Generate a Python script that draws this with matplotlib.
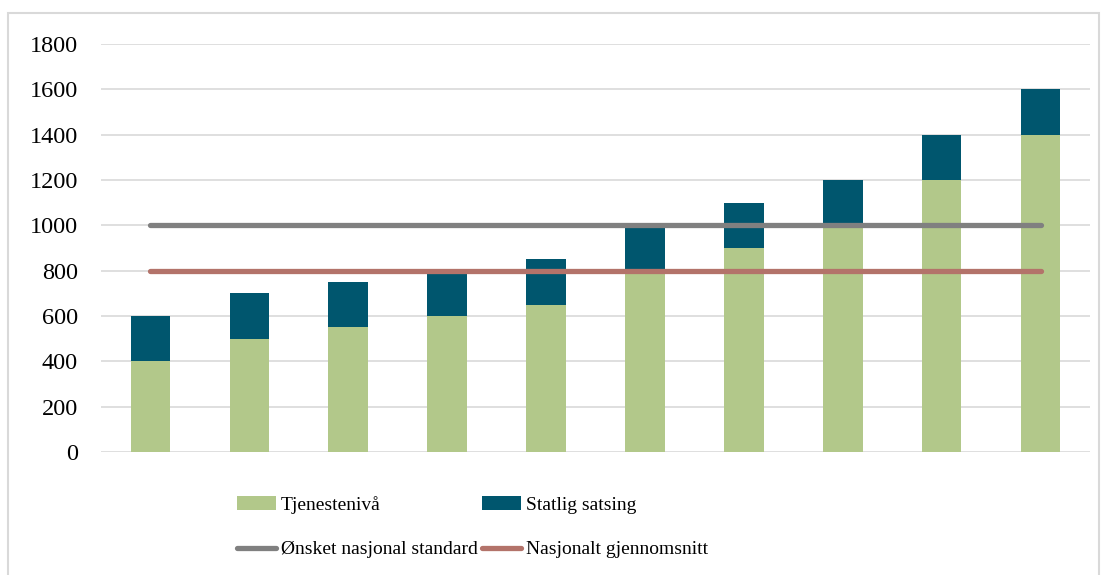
import matplotlib
matplotlib.use('Agg')

import matplotlib.pyplot as plt
from matplotlib.patches import Rectangle

# tjenestenivå per kommune og statlig tilskudd oppå
tjenesteniva = [400, 500, 550, 600, 650, 800, 900, 1000, 1200, 1400]
statlig = [200, 200, 200, 200, 200, 200, 200, 200, 200, 200]
onsket_standard = 1000
nasjonalt_snitt = 800
yticks = [0, 200, 400, 600, 800, 1000, 1200, 1400, 1600, 1800]

plt.rcParams['font.family'] = ['Liberation Serif', 'DejaVu Serif']
plt.rcParams['font.size'] = 17.5

fig = plt.figure(figsize=(11.07, 5.75), dpi=100)
fig.patches.append(Rectangle((8 / 1107, -0.01), 1091 / 1107, 1 - 13 / 575 + 0.01,
                             transform=fig.transFigure, fill=False,
                             edgecolor='#d9d9d9', lw=1.5))

ax = fig.add_axes([101 / 1107, 1 - 452 / 575, 989 / 1107, 408 / 575])

x = list(range(len(tjenesteniva)))
gronn = ax.bar(x, tjenesteniva, width=0.4, color='#b2c88a', zorder=2)
bla = ax.bar(x, statlig, bottom=tjenesteniva, width=0.4, color='#00566e', zorder=2)
l1, = ax.plot([x[0], x[-1]], [onsket_standard] * 2, color='#808080', lw=3.8,
              solid_capstyle='round', zorder=3)
l2, = ax.plot([x[0], x[-1]], [nasjonalt_snitt] * 2, color='#b3736a', lw=3.8,
              solid_capstyle='round', zorder=3)

ax.set_xlim(-0.5, len(x) - 0.5)
ax.set_ylim(0, 1800)
ax.set_yticks(yticks)
ax.set_xticks([])
ax.tick_params(axis='y', length=0, pad=16.5)
ax.grid(axis='y', color='#d9d9d9', lw=1.2, zorder=0)
for s in ax.spines.values():
    s.set_visible(False)

fig.legend([gronn, l1, bla, l2],
           ['Tjenestenivå', 'Ønsket nasjonal standard', 'Statlig satsing', 'Nasjonalt gjennomsnitt'],
           ncol=2, loc='upper left', bbox_to_anchor=(237 / 1107, 1 - 496 / 575),
           frameon=False, borderpad=0, borderaxespad=0, fontsize=14,
           handlelength=2.0, handleheight=0.7,
           handletextpad=0.25, columnspacing=0.25, labelspacing=1.38)

fig.savefig('out.png', dpi=100)
